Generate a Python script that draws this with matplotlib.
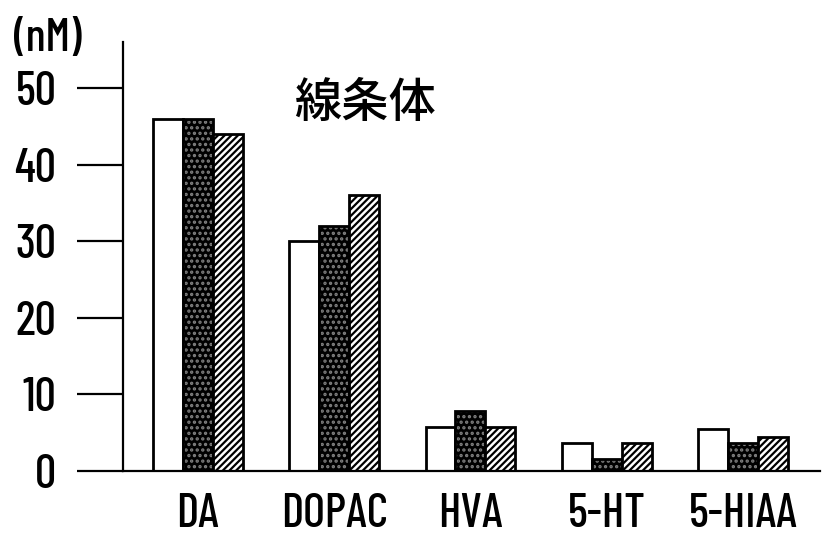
import numpy as np
from matplotlib import pyplot as plt

plt.rcParams['font.family'] = ['Barlow Condensed', 'DejaVu Sans']
plt.rcParams['font.weight'] = 500
plt.rcParams['hatch.linewidth'] = 1.6

categories = ["DA", "DOPAC", "HVA", "5-HT", "5-HIAA"]
white_vals = [46, 30, 5.7, 3.6, 5.5]
dark_vals = [46, 32, 7.8, 1.6, 3.6]
hatch_vals = [44, 36, 5.7, 3.6, 4.4]
y_ticks = [0, 10, 20, 30, 40, 50]

fig = plt.figure(figsize=(8.38, 5.36), dpi=100)
ax = fig.add_axes([0.1468, 0.1213, 0.8317, 0.8004])

x = np.arange(len(categories))
w = 0.22

ax.bar(x - w, white_vals, w, facecolor='white', edgecolor='black', linewidth=2)
# dark speckled bars: fill then outline
ax.bar(x, dark_vals, w, facecolor='black', edgecolor='#808080', hatch='...', linewidth=0)
ax.bar(x, dark_vals, w, fill=False, edgecolor='black', linewidth=2)
ax.bar(x + w, hatch_vals, w, facecolor='white', edgecolor='black', hatch='/////', linewidth=2)

ax.set_xlim(-0.55, 4.565)
ax.set_ylim(0, 56)
ax.set_yticks(y_ticks)
ax.set_xticks(x)
ax.set_xticklabels(categories)

for s in ['top', 'right']:
    ax.spines[s].set_visible(False)
for s in ['left', 'bottom']:
    ax.spines[s].set_linewidth(1.6)

ax.tick_params(axis='y', direction='out', length=33, width=1.6, pad=15, labelsize=34)
ax.tick_params(axis='x', length=0, pad=16, labelsize=34)

ax.text(0.245, 0.825, "線条体", transform=ax.transAxes, fontsize=34,
        family=['Noto Sans CJK JP', 'DejaVu Sans'])
fig.text(0.017, 0.905, "(nM)", fontsize=33)

fig.savefig("out.png", dpi=100)
